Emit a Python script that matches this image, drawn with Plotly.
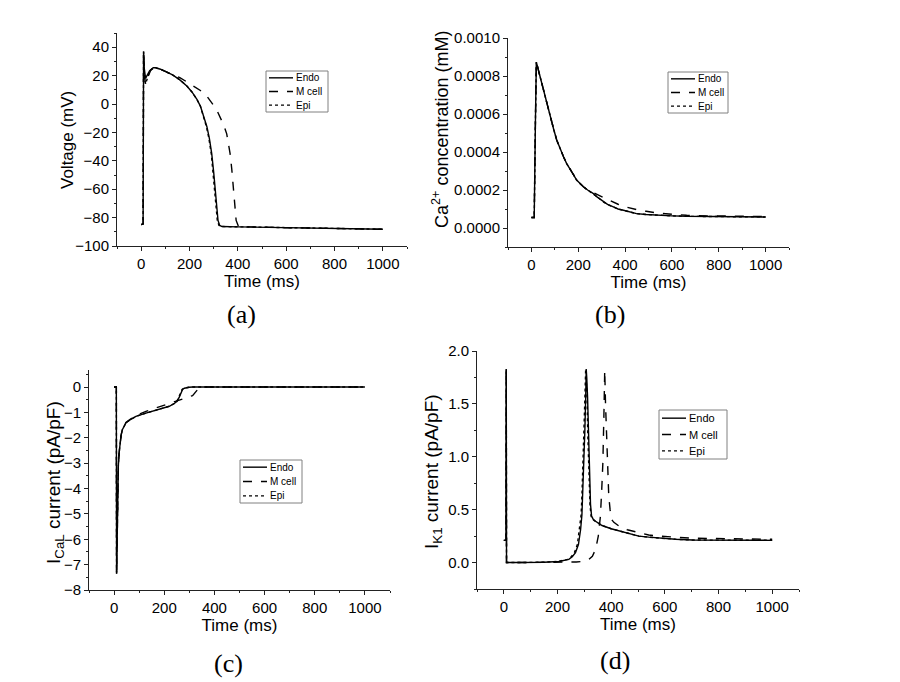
import plotly.graph_objects as go

# ---------------- Panel (a): membrane voltage ----------------
t_v_endo = [0, 8, 10, 13, 18, 25, 35, 50, 60, 80, 100, 130, 160, 190, 210, 230, 245, 260, 272,
            282, 292, 300, 306, 312, 318, 325, 335, 400, 500, 600, 700, 800, 900, 1000]
v_endo = [-85, -84.5, 37, 25, 18, 20, 23.5, 25.5, 25.5, 24.5, 23, 20.5, 17, 12.5, 8.5, 3.5, -1.5,
          -9, -16, -24, -35, -48, -60, -74, -82, -85.5, -86.3, -86.5, -86.8, -87.1, -87.4, -87.7,
          -87.9, -88.2]
t_v_m = [0, 8, 10, 13, 18, 25, 40, 55, 80, 100, 130, 160, 190, 215, 245, 272, 290, 300, 315, 327,
         342, 354, 362, 368, 375, 380, 384, 388, 393, 402, 450, 600, 800, 1000]
v_m = [-85, -84.5, 37, 22, 14, 18, 24, 25.5, 24.5, 23, 21, 18.5, 15.5, 13, 9.5, 5.5, 1.5, -1, -5,
       -9, -15, -21, -28, -35, -46, -57, -67, -76, -82, -86, -86.5, -87.1, -87.7, -88.2]
t_v_epi = [0, 8, 10, 13, 18, 25, 35, 50, 60, 80, 100, 130, 160, 190, 210, 230, 245, 258, 270,
           280, 290, 297, 303, 309, 315, 322, 332, 400, 500, 600, 700, 800, 900, 1000]
v_epi = [-85, -84.5, 37, 22, 14, 18, 23, 25.5, 25.5, 24.5, 23, 20.5, 17, 12.5, 8.5, 3.5, -1.5,
         -9, -16, -24, -35, -48, -60, -74, -82, -85.5, -86.3, -86.5, -86.8, -87.1, -87.4, -87.7,
         -87.9, -88.2]

# ---------------- Panel (b): Ca2+ concentration ----------------
t_ca_endo = [0, 12, 17, 21, 30, 40, 51, 65, 80, 95, 108, 122, 137, 150, 165, 180, 193, 208, 222,
             240, 265, 280, 295, 307, 325, 350, 370, 393, 420, 449, 490, 535, 600, 663, 750, 850, 1000]
ca_endo = [0.000055, 0.000055, 0.00055, 0.000873, 0.00083, 0.00078, 0.000727, 0.000655, 0.000586,
           0.00052, 0.000463, 0.000415, 0.000375, 0.00034, 0.000313, 0.00028, 0.000252, 0.000233,
           0.000217, 0.0002, 0.000181, 0.000164, 0.00015, 0.000137, 0.000124, 0.000111, 0.0001,
           0.0000933, 0.000085, 0.0000757, 0.000071, 0.0000669, 0.000064, 0.0000616, 0.00006,
           0.000059, 0.0000581]
t_ca_m = [0, 12, 17, 21, 30, 40, 51, 65, 80, 95, 108, 122, 137, 150, 165, 180, 193, 208, 222,
          240, 265, 280, 295, 307, 325, 350, 370, 393, 420, 449, 490, 535, 600, 663, 750, 850, 1000]
ca_m = [0.000055, 0.000055, 0.00055, 0.000873, 0.00083, 0.00078, 0.000727, 0.000655, 0.000586,
        0.00052, 0.000463, 0.000415, 0.000375, 0.00034, 0.000313, 0.00028, 0.000252, 0.000233,
        0.000217, 0.0002, 0.000185, 0.000178, 0.000168, 0.00016, 0.000149, 0.000137, 0.000125,
        0.000114, 0.000105, 0.0000968, 0.000088, 0.0000792, 0.000072, 0.0000669, 0.000064,
        0.000062, 0.0000605]
t_ca_epi = [0, 12, 17, 21, 30, 40, 51, 65, 80, 95, 108, 122, 137, 150, 165, 180, 193, 208, 222,
            240, 265, 280, 295, 307, 325, 350, 370, 393, 420, 449, 490, 535, 600, 663, 750, 850, 1000]
ca_epi = [0.000055, 0.000055, 0.00055, 0.000873, 0.00083, 0.00078, 0.000727, 0.000655, 0.000586,
          0.00052, 0.000463, 0.000415, 0.000375, 0.00034, 0.000313, 0.00028, 0.000252, 0.000233,
          0.000217, 0.0002, 0.000181, 0.000165, 0.00015, 0.000137, 0.000124, 0.000111, 0.0001,
          0.0000933, 0.000085, 0.0000757, 0.000071, 0.0000669, 0.000064, 0.0000616, 0.00006,
          0.000059, 0.0000581]

# ---------------- Panel (c): I_CaL ----------------
t_cal_endo = [0, 9, 10, 11, 13, 15, 17, 20, 23, 28, 33, 40, 47, 60, 87, 127, 180, 220, 240, 250,
              260, 267, 273, 280, 287, 300, 313, 400, 600, 800, 1000]
cal_endo = [0, 0, -7.3, -6.5, -5.1, -4.0, -3.1, -2.6, -2.2, -1.9, -1.68, -1.52, -1.42, -1.32,
            -1.16, -1.03, -0.89, -0.76, -0.65, -0.57, -0.4, -0.25, -0.1, -0.05, -0.03, -0.01, 0,
            0, 0, 0, 0]
t_cal_m = [0, 9, 10, 11, 13, 15, 17, 20, 23, 28, 33, 40, 47, 60, 87, 127, 180, 233, 248, 260,
           293, 313, 333, 347, 360, 400, 600, 800, 1000]
cal_m = [0, 0, -7.4, -6.6, -5.2, -4.1, -3.2, -2.6, -2.2, -1.9, -1.66, -1.5, -1.4, -1.3, -1.12,
         -0.96, -0.79, -0.62, -0.56, -0.53, -0.43, -0.34, -0.1, -0.01, 0, 0, 0, 0, 0]
t_cal_epi = [0, 9, 10, 11, 13, 15, 17, 20, 23, 28, 33, 40, 47, 60, 87, 127, 180, 220, 240, 250,
             258, 265, 271, 278, 285, 298, 311, 400, 600, 800, 1000]
cal_epi = [0, 0, -7.35, -6.5, -5.1, -4.0, -3.1, -2.6, -2.2, -1.9, -1.68, -1.52, -1.42, -1.32,
           -1.16, -1.03, -0.89, -0.76, -0.65, -0.57, -0.4, -0.25, -0.1, -0.05, -0.03, -0.01, 0,
           0, 0, 0, 0]

# ---------------- Panel (d): I_K1 ----------------
t_k1_endo = [0, 8, 9, 10, 50, 100, 150, 205, 242, 255, 267, 278, 286, 291, 294, 298, 302, 305,
             307, 309, 312, 315, 319, 323, 327, 333, 342, 366, 400, 429, 470, 503, 540, 578, 640,
             702, 800, 900, 1000]
k1_endo = [0.21, 0.21, 1.83, 0.0, 0.0, 0.0, 0.003, 0.01, 0.03, 0.055, 0.094, 0.17, 0.31, 0.45,
           0.63, 0.9, 1.25, 1.55, 1.83, 1.75, 1.57, 1.2, 0.78, 0.55, 0.44, 0.41, 0.39, 0.35, 0.32,
           0.30, 0.27, 0.25, 0.24, 0.23, 0.22, 0.213, 0.21, 0.21, 0.21]
t_k1_m = [0, 8, 9, 10, 50, 100, 150, 200, 242, 270, 290, 305, 317, 330, 342, 352, 360, 365, 369,
          373, 376, 379, 383, 387, 391, 396, 401, 410, 429, 460, 503, 540, 578, 640, 702, 850, 1000]
k1_m = [0.21, 0.21, 1.83, 0.0, 0.0, 0.0, 0.0, 0.0, 0.002, 0.005, 0.01, 0.02, 0.03, 0.06, 0.125,
        0.25, 0.44, 0.7, 0.94, 1.4, 1.82, 1.5, 1.25, 0.9, 0.63, 0.5, 0.41, 0.38, 0.345, 0.31, 0.28,
        0.26, 0.25, 0.24, 0.23, 0.225, 0.22]
t_k1_epi = [0, 8, 9, 10, 50, 100, 150, 200, 238, 251, 263, 274, 282, 288, 291, 295, 299, 302,
            305, 307, 310, 313, 317, 321, 325, 331, 340, 366, 400, 429, 470, 503, 540, 578, 640,
            702, 800, 900, 1000]
k1_epi = [0.21, 0.21, 1.83, 0.0, 0.0, 0.0, 0.003, 0.01, 0.03, 0.055, 0.094, 0.17, 0.31, 0.45,
          0.63, 0.9, 1.25, 1.55, 1.83, 1.75, 1.57, 1.2, 0.78, 0.55, 0.44, 0.41, 0.39, 0.35, 0.32,
          0.30, 0.27, 0.25, 0.24, 0.23, 0.22, 0.213, 0.21, 0.21, 0.21]

series_names = ["Endo", "M cell", "Epi"]
dash_styles = ["solid", "dash", "dot"]
x_title = "Time (ms)"
panel_labels = ["(a)", "(b)", "(c)", "(d)"]
y_titles = ["Voltage (mV)", "Ca<sup>2+</sup> concentration (mM)",
            "I<sub>CaL</sub> current (pA/pF)", "I<sub>K1</sub> current (pA/pF)"]

panels = [
    dict(data=[(t_v_endo, v_endo), (t_v_m, v_m), (t_v_epi, v_epi)],
         xdom=[117, 407], ydom=[33, 246], yrange=[-100, 50], ydtick=20, yminor=10,
         yfmt=None, ytsize=17, ytitle_px=(67, 140), legend_box=(266, 71, 328, 112),
         legend_font=10, label_px=(241, 314)),
    dict(data=[(t_ca_endo, ca_endo), (t_ca_m, ca_m), (t_ca_epi, ca_epi)],
         xdom=[508, 789], ydom=[38, 247], yrange=[-0.0001, 0.001], ydtick=0.0002, yminor=0.0001,
         yfmt=".4f", ytsize=18, ytitle_px=(440, 130), legend_box=(668, 72, 728, 113),
         legend_font=10, label_px=(610, 314)),
    dict(data=[(t_cal_endo, cal_endo), (t_cal_m, cal_m), (t_cal_epi, cal_epi)],
         xdom=[89, 390], ydom=[370, 590], yrange=[-8, 0.67], ydtick=1, yminor=0.5,
         yfmt=None, ytsize=19, ytitle_px=(55, 483), legend_box=(240, 460, 302, 503),
         legend_font=10, label_px=(228, 663)),
    dict(data=[(t_k1_endo, k1_endo), (t_k1_m, k1_m), (t_k1_epi, k1_epi)],
         xdom=[477, 799], ydom=[351, 589], yrange=[-0.25, 2.0], ydtick=0.5, yminor=0.25,
         yfmt=".1f", ytsize=19, ytitle_px=(433, 472), legend_box=(659, 410, 727, 459),
         legend_font=11, label_px=(615, 660)),
]

W, H = 900, 682
FONT = "Arial, Liberation Sans, sans-serif"
AX = "#222222"


def px(xp):
    return xp / W


def py(yp):
    return 1 - yp / H


fig = go.Figure()
layout = dict(width=W, height=H, margin=dict(l=0, r=0, t=0, b=0, pad=0),
              paper_bgcolor="white", plot_bgcolor="white", showlegend=False,
              font=dict(family=FONT, color="black"), template="none")
annotations = []
shapes = []

for i, p in enumerate(panels):
    n = i + 1
    xa = "x" if n == 1 else f"x{n}"
    ya = "y" if n == 1 else f"y{n}"
    for (tx, vy), name, dash in zip(p["data"], series_names, dash_styles):
        fig.add_trace(go.Scatter(x=tx, y=vy, mode="lines", name=name, xaxis=xa, yaxis=ya,
                                 showlegend=False,
                                 line=dict(color="black", width=1.4, dash=dash)))
    xkey = "xaxis" if n == 1 else f"xaxis{n}"
    ykey = "yaxis" if n == 1 else f"yaxis{n}"
    layout[xkey] = dict(domain=[px(p["xdom"][0]), px(p["xdom"][1])], anchor=ya,
                        range=[-100, 1100], dtick=200, tick0=0, ticks="outside", ticklen=4,
                        tickwidth=1, tickcolor=AX, showline=True, linecolor=AX,
                        linewidth=1, showgrid=False, zeroline=False, automargin=False,
                        tickfont=dict(size=15, family=FONT, color="black"),
                        minor=dict(ticks="outside", ticklen=2, dtick=100, tick0=0,
                                   tickcolor=AX, showgrid=False),
                        title=dict(text=x_title, font=dict(size=17, family=FONT), standoff=0))
    layout[ykey] = dict(domain=[py(p["ydom"][1]), py(p["ydom"][0])], anchor=xa,
                        range=p["yrange"], dtick=p["ydtick"], tick0=0, ticks="outside",
                        ticklen=4, tickwidth=1, tickcolor=AX, showline=True,
                        linecolor=AX, linewidth=1, showgrid=False, zeroline=False,
                        automargin=False,
                        tickfont=dict(size=15, family=FONT, color="black"),
                        minor=dict(ticks="outside", ticklen=2, dtick=p["yminor"], tick0=0,
                                   tickcolor=AX, showgrid=False))
    if p["yfmt"]:
        layout[ykey]["tickformat"] = p["yfmt"]

    # y-axis title
    annotations.append(dict(text=y_titles[i], x=px(p["ytitle_px"][0]), y=py(p["ytitle_px"][1]),
                            xref="paper", yref="paper", showarrow=False, textangle=-90,
                            xanchor="center", yanchor="middle",
                            font=dict(size=p["ytsize"], family=FONT, color="black")))

    # legend box drawn in paper coordinates
    x0, y0, x1, y1 = p["legend_box"]
    shapes.append(dict(type="rect", xref="paper", yref="paper", x0=px(x0), x1=px(x1),
                       y0=py(y1), y1=py(y0), line=dict(color="#808080", width=1),
                       fillcolor="white", layer="above"))
    rowh = (y1 - y0) / 3.0
    for k, (name, dash) in enumerate(zip(series_names, dash_styles)):
        yc = y0 + rowh * (k + 0.5)
        shapes.append(dict(type="line", xref="paper", yref="paper", x0=px(x0 + 3),
                           x1=px(x0 + 27), y0=py(yc), y1=py(yc), layer="above",
                           line=dict(color="black", width=1.4, dash=dash)))
        annotations.append(dict(text=name, x=px(x0 + 28), y=py(yc), xref="paper", yref="paper",
                                xanchor="left", yanchor="middle", showarrow=False,
                                font=dict(size=p["legend_font"], family=FONT, color="black")))
    annotations.append(dict(text=panel_labels[i], x=px(p["label_px"][0]), y=py(p["label_px"][1]),
                            xref="paper", yref="paper", showarrow=False,
                            xanchor="center", yanchor="middle",
                            font=dict(size=26, family="Liberation Serif, serif", color="black")))

layout["annotations"] = annotations
layout["shapes"] = shapes
fig.update_layout(**layout)
fig.write_html("out.html", config={"displayModeBar": False},
               post_script="document.body.style.margin='0px';")
